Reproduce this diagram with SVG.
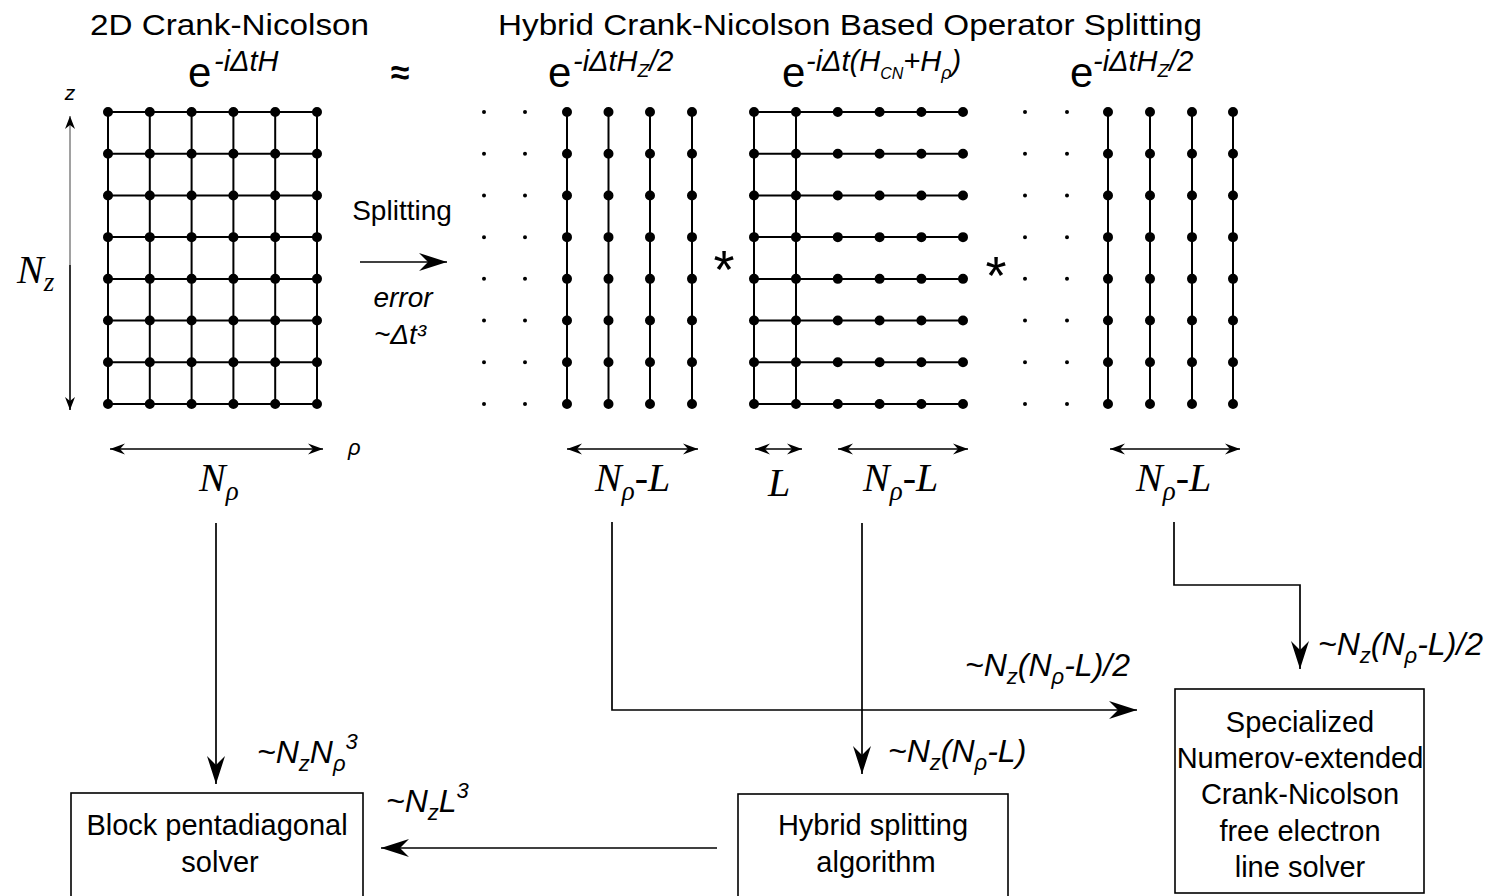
<svg xmlns="http://www.w3.org/2000/svg" width="1494" height="896" viewBox="0 0 1494 896">
<style>
.sans{font-family:"Liberation Sans",Arial,sans-serif;fill:#000}
.it{font-style:italic}
.ser{font-family:"Liberation Serif","Times New Roman",serif;font-style:italic;fill:#000}
.gl{stroke:#000;stroke-width:2;fill:none}
.dots{stroke:#000;stroke-width:10;stroke-linecap:round;stroke-dasharray:0 41.714;fill:none}
.sdots{stroke:#000;stroke-width:4;stroke-linecap:round;stroke-dasharray:0 41.714;fill:none}
.dim{stroke:#000;stroke-width:1.6;fill:none;marker-start:url(#dh);marker-end:url(#dh)}
.con{stroke:#000;stroke-width:1.7;fill:none}
.box{stroke:#000;stroke-width:1.6;fill:#fff}
.bt{font-family:"Liberation Sans",Arial,sans-serif;font-size:29px;text-anchor:middle;fill:#000}
.mi{font-family:"Liberation Sans",Arial,sans-serif;font-style:italic;font-size:32px;fill:#000}
</style>
<defs>
<marker id="ah" viewBox="-30 -10 32 20" refX="0" refY="0" markerWidth="32" markerHeight="20" markerUnits="userSpaceOnUse" orient="auto">
<path d="M0,0 L-28,-9 L-19,0 L-28,9 Z" fill="#000"/>
</marker>
<marker id="dh" viewBox="-16 -6 18 12" refX="0" refY="0" markerWidth="18" markerHeight="12" markerUnits="userSpaceOnUse" orient="auto-start-reverse">
<path d="M0,0 L-15,-5.5 L-10,0 L-15,5.5 Z" fill="#000"/>
</marker>
<marker id="sh" viewBox="-16 -6 18 12" refX="0" refY="0" markerWidth="18" markerHeight="12" markerUnits="userSpaceOnUse" orient="auto">
<path d="M0,0 L-13,-5 L-9,0 L-13,5 Z" fill="#000"/>
</marker>
</defs>
<rect width="1494" height="896" fill="#fff"/>

<g id="titles">
<text class="sans" x="90" y="35" font-size="30" textLength="279" lengthAdjust="spacingAndGlyphs">2D Crank-Nicolson</text>
<text class="sans" x="498" y="35" font-size="30" textLength="704" lengthAdjust="spacingAndGlyphs">Hybrid Crank-Nicolson Based Operator Splitting</text>
<text class="sans" x="400" y="84" font-size="34" text-anchor="middle" font-weight="bold">≈</text>
</g>

<g id="op-full">
<text class="sans" x="188" y="87" font-size="42">e</text>
<text class="sans it" x="214" y="71" font-size="29">-iΔtH</text>
</g>
<g id="op-z-left">
<text class="sans" x="548" y="87" font-size="42">e</text>
<text class="sans it" x="573" y="71" font-size="29">-iΔtH<tspan font-size="19" dy="6">Z</tspan><tspan dy="-6">/2</tspan></text>
</g>
<g id="op-rho">
<text class="sans" x="782" y="87" font-size="42">e</text>
<text class="sans it" x="806" y="71" font-size="29">-iΔt(H<tspan font-size="16" dy="8">CN</tspan><tspan dy="-8">+H</tspan><tspan font-size="18" dy="8">ρ</tspan><tspan dy="-8">)</tspan></text>
</g>
<g id="op-z-right">
<text class="sans" x="1070" y="87" font-size="42">e</text>
<text class="sans it" x="1093" y="71" font-size="29">-iΔtH<tspan font-size="19" dy="6">Z</tspan><tspan dy="-6">/2</tspan></text>
</g>

<g id="grid-full">
<path class="gl" d="M108,112V404M149.8,112V404M191.6,112V404M233.4,112V404M275.2,112V404M317,112V404"/>
<path class="gl" d="M108,112H317M108,153.7H317M108,195.4H317M108,237.1H317M108,278.9H317M108,320.6H317M108,362.3H317M108,404H317"/>
<path class="dots" d="M108,112V404.5M149.8,112V404.5M191.6,112V404.5M233.4,112V404.5M275.2,112V404.5M317,112V404.5"/>
</g>

<g id="axes">
<text class="sans it" x="70" y="100" font-size="21" text-anchor="middle">z</text>
<line x1="70" y1="265" x2="70" y2="116" stroke="#8a8a8a" stroke-width="1.6" marker-end="url(#sh)"/>
<line x1="70" y1="265" x2="70" y2="410" stroke="#000" stroke-width="1.6" marker-end="url(#sh)"/>
<text class="ser" x="17" y="283" font-size="40">N<tspan font-size="27" dy="8">z</tspan></text>
<line class="dim" x1="110" y1="449" x2="323" y2="449"/>
<text class="sans it" x="348" y="455" font-size="22">ρ</text>
<text class="ser" x="199" y="491" font-size="40">N<tspan font-size="27" dy="9">ρ</tspan></text>
</g>

<g id="splitting">
<text class="sans" x="402" y="220" font-size="28" text-anchor="middle">Splitting</text>
<line class="con" x1="360" y1="262" x2="447" y2="262" marker-end="url(#ah)"/>
<text class="sans it" x="403" y="307" font-size="28" text-anchor="middle">error</text>
<text class="sans it" x="400" y="344" font-size="28" text-anchor="middle">~Δt³</text>
</g>

<g id="grid-z-left">
<path class="sdots" d="M484,112V404.5M525,112V404.5"/>
<path class="gl" d="M567,112V404M608.5,112V404M650,112V404M692,112V404"/>
<path class="dots" d="M567,112V404.5M608.5,112V404.5M650,112V404.5M692,112V404.5"/>
<line class="dim" x1="567" y1="449" x2="698" y2="449"/>
<text class="ser" x="595" y="491" font-size="40">N<tspan font-size="27" dy="9">ρ</tspan><tspan dy="-9">-L</tspan></text>
</g>

<text class="sans" x="724" y="288" font-size="54" text-anchor="middle">*</text>

<g id="grid-rho">
<path class="gl" d="M754,112V404M796,112V404"/>
<path class="gl" d="M754,112H963M754,153.7H963M754,195.4H963M754,237.1H963M754,278.9H963M754,320.6H963M754,362.3H963M754,404H963"/>
<path class="dots" d="M754,112V404.5M796,112V404.5M837.8,112V404.5M879.6,112V404.5M921.4,112V404.5M963,112V404.5"/>
<line class="dim" x1="755" y1="449" x2="802" y2="449"/>
<text class="ser" x="768" y="496" font-size="40">L</text>
<line class="dim" x1="838" y1="449" x2="968" y2="449"/>
<text class="ser" x="863" y="491" font-size="40">N<tspan font-size="27" dy="9">ρ</tspan><tspan dy="-9">-L</tspan></text>
</g>

<text class="sans" x="996" y="294" font-size="54" text-anchor="middle">*</text>

<g id="grid-z-right">
<path class="sdots" d="M1025,112V404.5M1067,112V404.5"/>
<path class="gl" d="M1108,112V404M1150,112V404M1192,112V404M1233,112V404"/>
<path class="dots" d="M1108,112V404.5M1150,112V404.5M1192,112V404.5M1233,112V404.5"/>
<line class="dim" x1="1110" y1="449" x2="1240" y2="449"/>
<text class="ser" x="1136" y="491" font-size="40">N<tspan font-size="27" dy="9">ρ</tspan><tspan dy="-9">-L</tspan></text>
</g>

<g id="connectors">
<line class="con" x1="216" y1="523" x2="216" y2="784" marker-end="url(#ah)"/>
<polyline class="con" points="612,522 612,710 1137,710" marker-end="url(#ah)"/>
<line class="con" x1="862" y1="523" x2="862" y2="774" marker-end="url(#ah)"/>
<polyline class="con" points="1174,522 1174,585 1300,585 1300,669" marker-end="url(#ah)"/>
<line class="con" x1="717" y1="848" x2="381" y2="848" marker-end="url(#ah)"/>
<text class="mi" x="257" y="763">~N<tspan font-size="22" dy="8">z</tspan><tspan dy="-8">N</tspan><tspan font-size="22" dy="8">ρ</tspan><tspan font-size="22" dy="-22">3</tspan></text>
<text class="mi" x="386" y="812">~N<tspan font-size="22" dy="8">z</tspan><tspan dy="-8">L</tspan><tspan font-size="22" dy="-14">3</tspan></text>
<text class="mi" x="888" y="762">~N<tspan font-size="22" dy="8">z</tspan><tspan dy="-8">(N</tspan><tspan font-size="22" dy="8">ρ</tspan><tspan dy="-8">-L)</tspan></text>
<text class="mi" x="965" y="676">~N<tspan font-size="22" dy="8">z</tspan><tspan dy="-8">(N</tspan><tspan font-size="22" dy="8">ρ</tspan><tspan dy="-8">-L)/2</tspan></text>
<text class="mi" x="1318" y="655">~N<tspan font-size="22" dy="8">z</tspan><tspan dy="-8">(N</tspan><tspan font-size="22" dy="8">ρ</tspan><tspan dy="-8">-L)/2</tspan></text>
</g>

<g id="block-solver">
<rect class="box" x="71" y="793" width="292" height="130"/>
<text class="bt" x="217" y="835">Block pentadiagonal</text>
<text class="bt" x="220" y="872">solver</text>
</g>
<g id="hybrid-algorithm">
<rect class="box" x="738" y="794" width="270" height="130"/>
<text class="bt" x="873" y="835">Hybrid splitting</text>
<text class="bt" x="876" y="872">algorithm</text>
</g>
<g id="line-solver">
<rect class="box" x="1175" y="689" width="249" height="204"/>
<text class="bt" x="1300" y="732">Specialized</text>
<text class="bt" x="1300" y="768">Numerov-extended</text>
<text class="bt" x="1300" y="804">Crank-Nicolson</text>
<text class="bt" x="1300" y="841">free electron</text>
<text class="bt" x="1300" y="877">line solver</text>
</g>
</svg>
